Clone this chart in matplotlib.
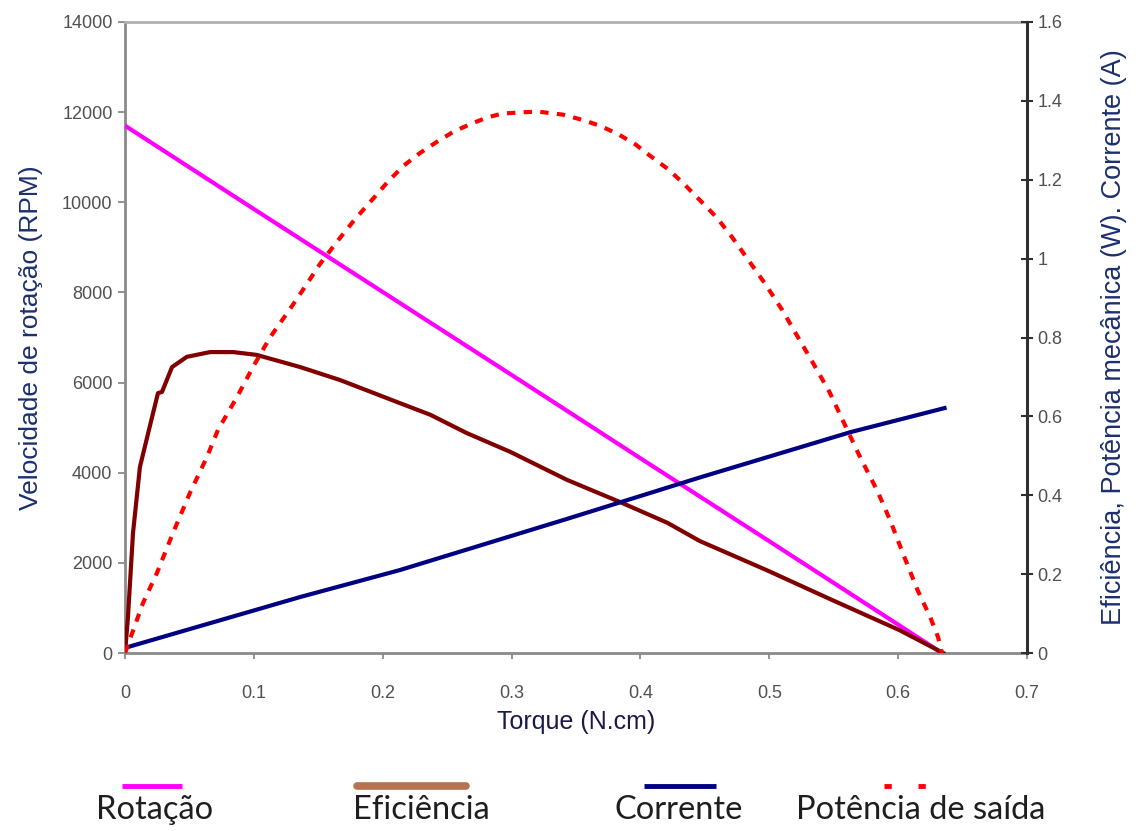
import matplotlib
matplotlib.use("Agg")
import matplotlib.pyplot as plt
from matplotlib.lines import Line2D

# --- dados ---
torque_rot = [0.0, 0.1, 0.2, 0.3, 0.4, 0.5, 0.6, 0.634]
rotacao = [11700, 9850, 8010, 6170, 4320, 2480, 630, 0]

torque_efi = [0.0, 0.0023, 0.0062, 0.0116, 0.021, 0.0256, 0.0287, 0.0365, 0.048,
              0.066, 0.084, 0.102, 0.136, 0.167, 0.213, 0.237, 0.265, 0.299,
              0.343, 0.384, 0.421, 0.446, 0.498, 0.549, 0.601, 0.635]
eficiencia = [0.0, 0.091, 0.304, 0.472, 0.598, 0.659, 0.662, 0.725, 0.751,
              0.763, 0.763, 0.756, 0.725, 0.692, 0.634, 0.604, 0.558, 0.510,
              0.439, 0.383, 0.330, 0.284, 0.210, 0.134, 0.058, 0.0]

torque_cor = [0.0, 0.136, 0.213, 0.343, 0.446, 0.563, 0.636]
corrente = [0.013, 0.142, 0.210, 0.340, 0.445, 0.560, 0.621]

torque_pot = [0.0, 0.014, 0.0248, 0.0372, 0.0504, 0.0636, 0.0722, 0.0869, 0.0993,
              0.1125, 0.128, 0.141, 0.151, 0.165, 0.1785, 0.192, 0.204, 0.216,
              0.229, 0.242, 0.255, 0.268, 0.281, 0.293, 0.320, 0.340, 0.357,
              0.370, 0.383, 0.396, 0.407, 0.421, 0.433, 0.445, 0.459, 0.471,
              0.483, 0.497, 0.510, 0.5215, 0.534, 0.547, 0.557, 0.570, 0.584,
              0.594, 0.604, 0.615, 0.625, 0.631, 0.634]
potencia = [0.0, 0.127, 0.203, 0.304, 0.406, 0.497, 0.566, 0.649, 0.725,
            0.800, 0.872, 0.935, 0.985, 1.045, 1.100, 1.150, 1.195, 1.235,
            1.268, 1.296, 1.322, 1.341, 1.358, 1.368, 1.373, 1.365, 1.350,
            1.335, 1.315, 1.290, 1.262, 1.228, 1.192, 1.152, 1.105, 1.055,
            1.000, 0.935, 0.870, 0.805, 0.735, 0.660, 0.590, 0.500, 0.410,
            0.335, 0.250, 0.160, 0.090, 0.040, 0.0]

x_ticks = [0, 0.1, 0.2, 0.3, 0.4, 0.5, 0.6, 0.7]
x_tick_labels = ["0", "0.1", "0.2", "0.3", "0.4", "0.5", "0.6", "0.7"]
y_left_ticks = [0, 2000, 4000, 6000, 8000, 10000, 12000, 14000]
y_right_ticks = [0, 0.2, 0.4, 0.6, 0.8, 1.0, 1.2, 1.4, 1.6]
y_right_labels = ["0", "0.2", "0.4", "0.6", "0.8", "1", "1.2", "1.4", "1.6"]

legend_labels = ["Rotação", "Eficiência", "Corrente", "Potência de saída"]

plt.rcParams["font.family"] = ["Liberation Sans", "DejaVu Sans"]

tick_color = "#505050"
label_color = "#1c2f6e"

fig = plt.figure(figsize=(11.39, 8.31), dpi=100)
ax = fig.add_axes([125 / 1139, 1 - 653 / 831, 902 / 1139, 631 / 831])
ax2 = ax.twinx()

# curvas
ax.plot(torque_rot, rotacao, color="#ff00ff", lw=3, solid_capstyle="butt", zorder=3)
ax2.plot(torque_efi, eficiencia, color="#800000", lw=3, zorder=3)
ax2.plot(torque_cor, corrente, color="#000080", lw=3, zorder=3)
ax2.plot(torque_pot, potencia, color="#ff0000", lw=3, linestyle=(0, (2, 2)), zorder=4)

ax.set_xlim(0, 0.7)
ax.set_ylim(0, 14000)
ax2.set_ylim(0, 1.6)

ax.set_xticks(x_ticks)
ax.set_xticklabels(x_tick_labels)
ax.set_yticks(y_left_ticks)
ax2.set_yticks(y_right_ticks)
ax2.set_yticklabels(y_right_labels)

ax.tick_params(axis="x", direction="out", length=4, width=1.2, color="#808080",
               pad=19, labelsize=13, labelcolor=tick_color)
ax.tick_params(axis="y", direction="out", length=5, width=1.2, color="#808080",
               pad=4, labelsize=13, labelcolor=tick_color)
ax2.tick_params(axis="y", direction="inout", length=9, width=1.5, color="#303030",
                pad=3, labelsize=13, labelcolor=tick_color)

for name, sp in ax.spines.items():
    sp.set_color("#8a8a8a")
    sp.set_linewidth(2)
ax.spines["top"].set_color("#b0b0b0")
for name, sp in ax2.spines.items():
    sp.set_visible(False)
ax2.spines["right"].set_visible(True)
ax2.spines["right"].set_color("#303030")
ax2.spines["right"].set_linewidth(2.2)

ax.set_xlabel("Torque (N.cm)", fontsize=18, color="#1a1a4a", labelpad=6)
ax.set_ylabel("Velocidade de rotação (RPM)", fontsize=19, color=label_color, labelpad=14)
ax2.set_ylabel("Eficiência, Potência mecânica (W). Corrente (A)", fontsize=19.5,
               color=label_color, labelpad=28)

# legenda manual abaixo do gráfico (linha acima do texto)
leg_lines = [
    dict(x0=122, x1=182, color="#ff00ff", lw=3.5, ls="-", cap="butt"),
    dict(x0=357, x1=466, color="#b5744f", lw=5.5, ls="-", cap="round"),
    dict(x0=644, x1=716, color="#000080", lw=3.5, ls="-", cap="butt"),
    dict(x0=884, x1=950, color="#ff0000", lw=3.5, ls=(0, (1.5, 5.5)), cap="butt"),
]
leg_text_x = [155, 421, 679, 921]
for spec, lab, tx in zip(leg_lines, legend_labels, leg_text_x):
    fig.add_artist(Line2D([spec["x0"] / 1139, spec["x1"] / 1139], [1 - 786 / 831] * 2,
                          transform=fig.transFigure, color=spec["color"], lw=spec["lw"],
                          linestyle=spec["ls"], solid_capstyle=spec["cap"]))
    fig.text(tx / 1139, 1 - 810 / 831, lab, ha="center", va="center", fontsize=23.5,
             family=["Lato", "DejaVu Sans"], color="#1e1e1e")

fig.savefig("out.png", dpi=100)
